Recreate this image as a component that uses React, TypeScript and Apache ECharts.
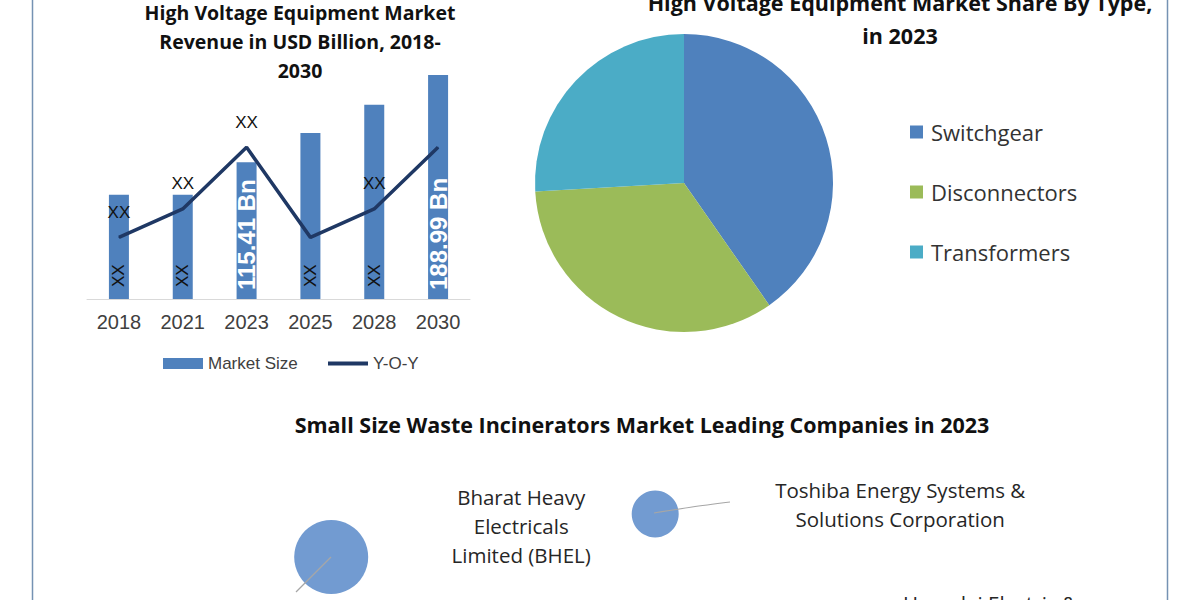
import React, { useEffect, useRef } from "react";
import * as echarts from "echarts";

// ---- Bar + line chart data ----
const years = ["2018", "2021", "2023", "2025", "2028", "2030"];
const marketSize = [88, 88, 115.41, 140, 164, 188.99];
const barLabels = ["XX", "XX", "115.41 Bn", "XX", "XX", "188.99 Bn"];
const yoy = [2.6, 3.8, 6.4, 2.6, 3.8, 6.4];
const yoyLabels = ["XX", "XX", "XX", "", "XX", ""];

// ---- Pie data ----
const pieTypes = ["Switchgear", "Disconnectors", "Transformers"];
const pieShares = [40.3, 33.8, 25.9];
const pieColors = ["#4f81bd", "#9bbb59", "#4bacc6"];

// ---- Bubble data ----
const companies = [
  "Bharat Heavy\nElectricals\nLimited (BHEL)",
  "Toshiba Energy Systems &\nSolutions Corporation",
  "Hyundai Electric &",
];
const bubbleX = [27.6, 54.6, 70];
const bubbleY = [21.5, 43, -35];
const bubbleSize = [7.4, 4.7, 6];

const barTitle = "High Voltage Equipment Market\nRevenue in USD Billion, 2018-\n2030";
const pieTitle = "High Voltage Equipment Market Share By Type,\nin 2023";
const bubbleTitle = "Small Size Waste Incinerators Market Leading Companies in 2023";

export default function App() {
  const ref = useRef<HTMLDivElement>(null);

  useEffect(() => {
    if (!ref.current) return;
    const chart = echarts.init(ref.current, undefined, { renderer: "svg" });

    const barData = marketSize.map((v, i) => {
      const isBn = barLabels[i] !== "XX";
      return {
        value: v,
        label: isBn
          ? { color: "#ffffff", fontSize: 24, fontWeight: "bold", distance: 9 }
          : { color: "#111111", fontSize: 17, fontWeight: "normal", distance: 12 },
      };
    });

    const lineData = yoy.map((v, i) => ({
      value: v,
      label: { show: yoyLabels[i] !== "" },
    }));

    const labelOffsets = [
      [190, -31],
      [245, -10],
      [150, -67],
    ];
    const bubbleData = companies.map((c, i) => ({
      name: c,
      value: [bubbleX[i], bubbleY[i], bubbleSize[i]],
      label: { offset: labelOffsets[i] },
    }));

    const legendText = { fontSize: 17, color: "#404040", fontFamily: "Liberation Sans" };

    const option: any = {
      animation: false,
      backgroundColor: "#ffffff",
      grid: [
        { left: 87, top: 62, width: 383, height: 237 },
        { left: 0, top: 400, width: 1200, height: 200 },
      ],
      xAxis: [
        {
          type: "category",
          gridIndex: 0,
          data: years,
          axisLine: { lineStyle: { color: "#d9d9d9", width: 1 } },
          axisTick: { show: false },
          axisLabel: {
            color: "#404040",
            fontSize: 20,
            fontFamily: "Liberation Sans",
            margin: 13,
          },
        },
        { type: "value", gridIndex: 1, min: 0, max: 100, show: false },
      ],
      yAxis: [
        { type: "value", gridIndex: 0, min: 0, max: 200, show: false },
        { type: "value", gridIndex: 0, min: 0, max: 10, show: false },
        { type: "value", gridIndex: 1, min: 0, max: 100, show: false },
      ],
      legend: [
        {
          left: 163,
          top: 355,
          padding: 0,
          itemWidth: 40,
          itemHeight: 11,
          icon: "rect",
          selectedMode: false,
          textStyle: legendText,
          data: ["Market Size"],
        },
        {
          left: 328,
          top: 355,
          padding: 0,
          itemWidth: 40,
          itemHeight: 4,
          icon: "rect",
          selectedMode: false,
          textStyle: legendText,
          data: ["Y-O-Y"],
        },
        {
          orient: "vertical",
          left: 910,
          top: 119,
          padding: 0,
          itemWidth: 13,
          itemHeight: 13,
          itemGap: 34,
          icon: "rect",
          selectedMode: false,
          textStyle: {
            fontSize: 22,
            lineHeight: 26,
            color: "#333333",
            fontFamily: "Open Sans",
            padding: [0, 0, 0, 3],
          },
          data: pieTypes,
        },
      ],
      series: [
        {
          name: "Market Size",
          type: "bar",
          xAxisIndex: 0,
          yAxisIndex: 0,
          barWidth: 20,
          itemStyle: { color: "#4f81bd" },
          data: barData,
          label: {
            show: true,
            position: "insideBottom",
            rotate: 90,
            align: "left",
            verticalAlign: "middle",
            fontFamily: "Liberation Sans",
            formatter: (p: any) => barLabels[p.dataIndex],
          },
          z: 2,
        },
        {
          name: "Y-O-Y",
          type: "line",
          xAxisIndex: 0,
          yAxisIndex: 1,
          symbol: "circle",
          symbolSize: 1,
          showSymbol: true,
          lineStyle: { color: "#1f3864", width: 3.5 },
          itemStyle: { color: "#1f3864" },
          data: lineData,
          label: {
            show: true,
            position: "top",
            distance: 16,
            color: "#111111",
            fontSize: 17,
            fontFamily: "Liberation Sans",
            formatter: (p: any) => yoyLabels[p.dataIndex],
          },
          z: 3,
        },
        {
          type: "pie",
          center: [684, 183],
          radius: 149,
          startAngle: 90,
          clockwise: true,
          label: { show: false },
          labelLine: { show: false },
          emphasis: { disabled: true },
          data: pieTypes.map((n, i) => ({
            name: n,
            value: pieShares[i],
            itemStyle: { color: pieColors[i] },
          })),
        },
        {
          type: "scatter",
          xAxisIndex: 1,
          yAxisIndex: 2,
          clip: false,
          symbolSize: (v: number[]) => v[2] * 10,
          itemStyle: { color: "#729bd1", opacity: 1 },
          data: bubbleData,
          label: {
            show: true,
            position: "inside",
            formatter: (p: any) => companies[p.dataIndex],
            color: "#262626",
            fontSize: 20.5,
            lineHeight: 29,
            fontFamily: "Open Sans",
            align: "center",
          },
        },
      ],
      graphic: [
        {
          type: "line",
          shape: { x1: 32.5, y1: 0, x2: 32.5, y2: 600 },
          style: { stroke: "#7592b3", lineWidth: 1.5 },
        },
        {
          type: "line",
          shape: { x1: 1167.5, y1: 0, x2: 1167.5, y2: 600 },
          style: { stroke: "#7592b3", lineWidth: 1.5 },
        },
        {
          type: "text",
          x: 300,
          y: -2.5,
          style: {
            text: barTitle,
            align: "center",
            verticalAlign: "top",
            lineHeight: 29,
            fontSize: 19.5,
            fontWeight: "bold",
            fontFamily: "Open Sans",
            fill: "#111111",
          },
        },
        {
          type: "text",
          x: 900,
          y: -14.5,
          style: {
            text: pieTitle,
            align: "center",
            verticalAlign: "top",
            lineHeight: 33,
            fontSize: 21.5,
            fontWeight: "bold",
            fontFamily: "Open Sans",
            fill: "#111111",
          },
        },
        {
          type: "text",
          x: 642,
          y: 424,
          style: {
            text: bubbleTitle,
            align: "center",
            verticalAlign: "middle",
            fontSize: 21.5,
            fontWeight: "bold",
            fontFamily: "Open Sans",
            fill: "#111111",
          },
        },
        {
          type: "line",
          shape: { x1: 331, y1: 557, x2: 296, y2: 592 },
          style: { stroke: "#a6a6a6", lineWidth: 1.2 },
          z: 10,
        },
        {
          type: "polyline",
          shape: { points: [[654, 513], [692, 507], [730, 502]], smooth: 0.3 },
          style: { stroke: "#a6a6a6", lineWidth: 1.2, fill: "none" },
          z: 10,
        },
      ],
    };

    chart.setOption(option);
    return () => chart.dispose();
  }, []);

  return (
    <div
      ref={ref}
      style={{ position: "fixed", left: 0, top: 0, width: 1200, height: 600, background: "#ffffff" }}
    />
  );
}
